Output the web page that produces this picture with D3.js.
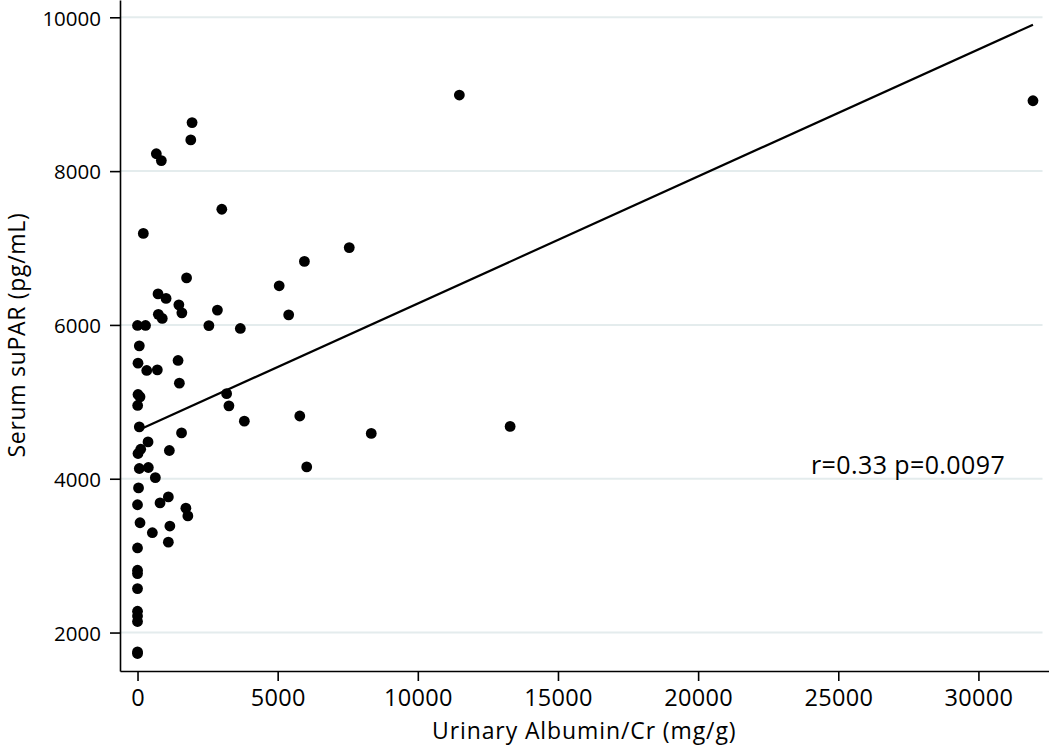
<!DOCTYPE html>
<html>
<head>
<meta charset="utf-8">
<script src="https://cdn.jsdelivr.net/npm/d3@7"></script>
<style>
  body { margin: 0; background: #fff; }
  #chart text { font-family: "Open Sans", sans-serif; fill: #000; }
</style>
</head>
<body>
<div id="chart"></div>
<script>
`use strict`;

// urinary albumin/Cr (mg/g), one value per patient
const albumin = [
  1946, 1900, 671, 850, 3007, 207, 7554, 5954, 5054, 1750,
  732, 1018, 1475, 1582, 743, 882, 2850, 5393, 0, 286,
  2546, 3668, 64, 18, 329, 707, 1446, 1493, 18, 89,
  5, 3179, 3261, 3811, 5789, 8339, 13293, 64, 1571, 375,
  114, 18, 1136, 6036, 64, 386, 636, 36, 0, 804,
  1100, 1725, 1796, 89, 529, 1154, 1100, 0, 0, 0,
  0, 0, 0, 0, 0, 0, 11482, 31946
];

// serum suPAR (pg/mL), same order
const supar = [
  8631, 8406, 8226, 8137, 7504, 7190, 7006, 6826, 6509, 6611,
  6403, 6345, 6261, 6157, 6138, 6085, 6193, 6131, 5993, 5993,
  5991, 5954, 5728, 5503, 5408, 5416, 5538, 5243, 5096, 5065,
  4953, 5106, 4948, 4749, 4816, 4589, 4680, 4675, 4596, 4479,
  4384, 4328, 4367, 4154, 4133, 4146, 4014, 3881, 3662, 3686,
  3764, 3617, 3517, 3428, 3298, 3385, 3175, 3100, 2810, 2767,
  2572, 2277, 2215, 2143, 1748, 1727, 8989, 8915
];

const xTicks = [0, 5000, 10000, 15000, 20000, 25000, 30000];
const yTicks = [2000, 4000, 6000, 8000, 10000];

const fitIntercept = 4627;
const fitSlope = 0.1652;

const statLabel = `r=0.33 p=0.0097`;
const xTitle = `Urinary Albumin/Cr (mg/g)`;
const yTitle = `Serum suPAR (pg/mL)`;

(function () {

  const W = 1050, H = 745;

  const plot = {left: 120, right: 1048.5, top: 0, bottom: 671};

  const svg = d3.select(`#chart`).append(`svg`)
    .attr(`width`, W)
    .attr(`height`, H);

  const x = d3.scaleLinear()
    .domain([-625, 32500])
    .range([plot.left, plot.right]);

  const y = d3.scaleLinear()
    .domain([1500, 10225])
    .range([plot.bottom, plot.top]);

  // light horizontal grid
  svg.append(`g`)
    .attr(`class`, `grid`)
    .selectAll(`line`).data(yTicks)
    .enter()
    .append(`line`)
    .attr(`x1`, plot.left + 1)
    .attr(`x2`, plot.right - 6)
    .attr(`y1`, d => y(d))
    .attr(`y2`, d => y(d))
    .attr(`stroke`, `#e4eced`)
    .style(`stroke-width`, 2);

  let yAxis = svg.append(`g`)
    .attr(`transform`, `translate(${plot.left},0)`)
    .call(d3.axisLeft(y)
      .tickValues(yTicks)
      .tickFormat(d3.format(`d`))
      .tickSize(10)
      .tickSizeOuter(0)
      .tickPadding(9));

  yAxis.selectAll(`text`)
    .style(`font-size`, `20.5px`)
    .attr(`dy`, `0.38em`);

  let xAxis = svg.append(`g`)
    .attr(`transform`, `translate(0,${plot.bottom})`)
    .call(d3.axisBottom(x)
      .tickValues(xTicks)
      .tickFormat(d3.format(`d`))
      .tickSize(10)
      .tickSizeOuter(0)
      .tickPadding(8.5));

  xAxis.selectAll(`text`)
    .style(`font-size`, `23.5px`)
    .style(`letter-spacing`, `0.3px`);

  svg.selectAll(`.domain, .tick line`)
    .attr(`stroke`, `#000`)
    .style(`stroke-width`, 1.6);

  // fitted line over the data range
  const xr = d3.extent(albumin);

  svg.append(`line`)
    .attr(`x1`, x(xr[0]))
    .attr(`y1`, y(fitIntercept + fitSlope * xr[0]))
    .attr(`x2`, x(xr[1]))
    .attr(`y2`, y(fitIntercept + fitSlope * xr[1]))
    .attr(`stroke`, `#000`)
    .style(`stroke-width`, 2.2);

  svg.append(`g`)
    .attr(`class`, `dots`)
    .selectAll(`circle`).data(d3.zip(albumin, supar))
    .enter()
    .append(`circle`)
    .attr(`cx`, d => x(d[0]))
    .attr(`cy`, d => y(d[1]))
    .attr(`r`, 5.4)
    .attr(`fill`, `#000`);

  svg.append(`text`)
    .attr(`x`, 811)
    .attr(`y`, 474)
    .style(`font-size`, `25px`)
    .style(`letter-spacing`, `0.4px`)
    .text(statLabel);

  svg.append(`text`)
    .attr(`x`, (plot.left + plot.right) / 2)
    .attr(`y`, 739)
    .attr(`text-anchor`, `middle`)
    .style(`font-size`, `23px`)
    .style(`letter-spacing`, `0.9px`)
    .text(xTitle);

  svg.append(`text`)
    .attr(`transform`, `translate(25,335) rotate(-90)`)
    .attr(`text-anchor`, `middle`)
    .style(`font-size`, `23px`)
    .style(`letter-spacing`, `0.7px`)
    .text(yTitle);

})();
</script>
</body>
</html>
